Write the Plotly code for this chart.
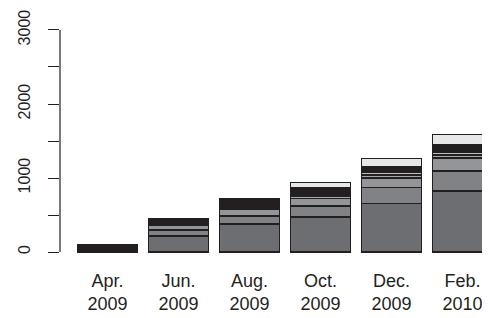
import plotly.graph_objects as go

months = ["Apr.<br>2009", "Jun.<br>2009", "Aug.<br>2009", "Oct.<br>2009", "Dec.<br>2009", "Feb.<br>2010"]
s1 = [30, 220, 378, 477, 657, 823]
s2 = [20, 77, 112, 144, 216, 270]
s3 = [None, 68, 90, 104, 130, 180]
s4 = [None, None, 12, 23, 36, 40]
s5 = [None, None, 11, 23, 45, 41]
s6 = [50, 90, 89, 90, 68, 100]
s7 = [None, None, 27, 81, 113, 135]
series = [s1, s2, s3, s4, s5, s6, s7]
colors = ["#6d6e71", "#808285", "#939598", "#a7a9ac", "#bcbec0", "#231f20", "#e6e7e8"]

yticks = [0, 500, 1000, 1500, 2000, 2500, 3000]
yticklabels = ["0", "", "1000", "", "2000", "", "3000"]

xpos = list(range(len(months)))
fig = go.Figure()
for vals, col in zip(series, colors):
    fig.add_trace(go.Bar(x=xpos, y=vals, width=0.845, marker=dict(color=col, line=dict(color="#231f20", width=1.6)),
                         showlegend=False))

fig.update_layout(
    barmode="stack",
    width=482, height=310,
    margin=dict(l=52, r=0, t=12, b=56),
    paper_bgcolor="white", plot_bgcolor="white",
    font=dict(family="Liberation Sans, Arial, sans-serif", size=16, color="#231f20"),
    xaxis=dict(range=[-0.669, 5.387], tickvals=xpos, ticktext=months, showline=False, showgrid=False,
               zeroline=False, ticks="", tickangle=0, automargin=False, tickfont=dict(size=18),
               ticklabelstandoff=6, ticklabeloverflow="allow"),
    yaxis=dict(range=[-135, 3135], tickvals=yticks, ticktext=yticklabels, showline=False, showgrid=False,
               zeroline=False, ticks="outside", ticklen=11, tickwidth=1.2, tickcolor="#231f20", tickangle=-90,
               automargin=False, ticklabelstandoff=12, tickfont=dict(size=16), ticklabeloverflow="allow"),
)
fig.add_shape(type="line", xref="paper", yref="y", x0=0, x1=0, y0=0, y1=3000,
              line=dict(color="#231f20", width=1.2))
fig.write_html("out.html")
